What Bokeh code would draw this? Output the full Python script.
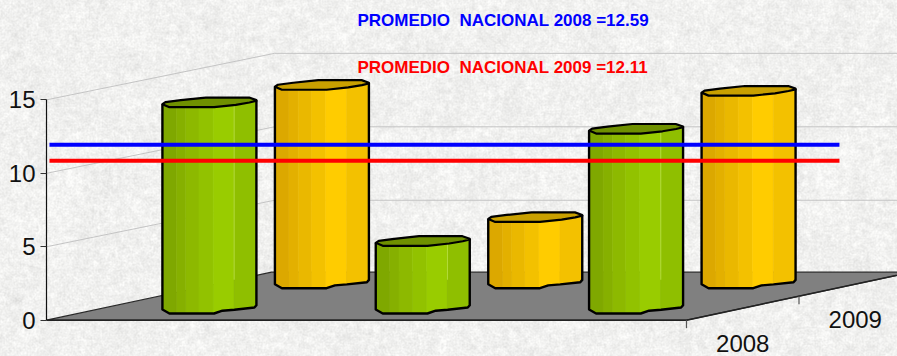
import base64, struct, zlib
import numpy as np
from bokeh.core.properties import value
from bokeh.embed import file_html
from bokeh.resources import INLINE
from bokeh.plotting import figure
from bokeh.models import Range1d, FixedTicker, Label, ColumnDataSource

# ---- data ----
categories = ["A", "B", "C"]
series_names = ["2008", "2009"]
values_2008 = [14.0, 4.56, 12.2]
values_2009 = [13.55, 4.55, 13.15]
y_ticks = [0, 5, 10, 15]
average_levels = [11.95, 10.86]
average_labels = ["PROMEDIO\u00a0\u00a0NACIONAL 2008 =12.59", "PROMEDIO\u00a0\u00a0NACIONAL 2009 =12.11"]
average_colors = ["#0000FF", "#FF0000"]

# ---- page geometry ----
W, H = 897, 356
LEFT = 46                 # axis line
ZERO_PX = 319.7           # pixel row of value 0
PX_PER_VALUE = 14.69
PX_PER_CAT = 213.33
DEPTH_DX_PX, DEPTH_DY_PX = 112.5, 24.0

x_per_depth = DEPTH_DX_PX / PX_PER_CAT
y_per_depth = DEPTH_DY_PX / PX_PER_VALUE

def X(cat, depth=0.0, off_px=0.0):
    return cat + depth * x_per_depth + np.asarray(off_px) / PX_PER_CAT

def Y(val, depth=0.0, off_px=0.0):
    return val + depth * y_per_depth - np.asarray(off_px) / PX_PER_VALUE

# ---- stone paper background, a deterministic mottled texture ----
def texture():
    pad = 60
    yy, xx = np.mgrid[0:H + 2 * pad, 0:W + 2 * pad].astype(float)
    h = np.sin(xx * 12.9898 + yy * 78.233) * 43758.5453
    h = h - np.floor(h)
    def blur(a, r):
        for axis in (0, 1):
            c = np.cumsum(a, axis=axis)
            a = (np.roll(c, -r, axis) - np.roll(c, r, axis)) / (2 * r)
        return a
    fine = blur(h, 1) - 0.5
    mid = blur(h[::-1, :], 3) - 0.5
    big = blur(h[:, ::-1], 12) - 0.5
    g = 241 + fine * 24 + mid * 60 + big * 100
    g = np.clip(g, 212, 253)[pad:pad + H, pad:pad + W]
    px = np.stack([g, g, g * 0.994], axis=-1).astype(np.uint8)
    raw = b"".join(b"\x00" + px[i].tobytes() for i in range(H))
    def chunk(t, d):
        return struct.pack(">I", len(d)) + t + d + struct.pack(">I", zlib.crc32(t + d) & 0xffffffff)
    png = b"\x89PNG\r\n\x1a\n" + chunk(b"IHDR", struct.pack(">IIBBBBB", W, H, 8, 2, 0, 0, 0)) \
        + chunk(b"IDAT", zlib.compress(raw, 9)) + chunk(b"IEND", b"")
    return base64.b64encode(png).decode()

p = figure(width=W, height=H, output_backend="svg", toolbar_location=None,
           x_range=Range1d(0, (W - LEFT) / PX_PER_CAT),
           y_range=Range1d(-(H - ZERO_PX) / PX_PER_VALUE, ZERO_PX / PX_PER_VALUE),
           min_border_left=LEFT, min_border_right=0, min_border_top=0, min_border_bottom=0,
           outline_line_color=None,
           background_fill_color=None, border_fill_color=None, x_axis_location=None)
p.stylesheets = [":host{background:url(data:image/png;base64,%s) no-repeat 0 0;}" % texture()]
p.xgrid.visible = False
p.ygrid.visible = False

ax = p.yaxis[0]
ax.ticker = FixedTicker(ticks=y_ticks)
ax.bounds = (y_ticks[0], y_ticks[-1])
ax.major_label_text_font = "Liberation Sans"
ax.major_label_text_font_size = "24px"
ax.major_label_text_color = "#111111"
ax.major_tick_out = 6
ax.major_tick_in = 0
ax.minor_tick_out = 0
ax.minor_tick_in = 0
ax.major_label_standoff = 5
ax.axis_line_color = "#111111"
ax.axis_line_width = 1.2
ax.major_tick_line_color = "#333333"

n_cat = len(categories)
n_depth = len(series_names)

# walls' grid lines
WALL_DROP = 1.5
gx, gy = [], []
for t in y_ticks[1:]:
    gx.append([X(0, 0), X(0, n_depth, 3), X(n_cat, n_depth, 3)])
    gy.append([Y(t, 0), Y(t, n_depth, WALL_DROP), Y(t, n_depth, WALL_DROP)])
p.multi_line(gx, gy, line_color="#C4C4C4", line_width=1)

# floor
p.patch([X(0, 0), X(n_cat, 0), X(n_cat, n_depth), X(0, n_depth)],
        [Y(0, 0), Y(0, 0), Y(0, n_depth), Y(0, n_depth)],
        fill_color="#808080", line_color="#2a2a2a", line_width=1.2)
p.line([X(0, 0), X(n_cat, 0), X(n_cat, n_depth)], [Y(0, 0), Y(0, 0), Y(0, n_depth)],
       line_color="#222222", line_width=1.5)

# depth ticks
TICK = 8.0
tick_x = [[X(n_cat, d), X(n_cat, d)] for d in range(n_depth)]
tick_y = [[Y(0, d), Y(0, d, TICK)] for d in range(n_depth)]
p.multi_line(tick_x, tick_y, line_color="#555555", line_width=1.2)

# depth labels, real text placed at the depth positions
dl = ColumnDataSource(dict(x=[X(n_cat, d + 0.5) for d in range(n_depth)],
                           y=[Y(0, d + 0.5, 35.5) for d in range(n_depth)],
                           t=series_names))
p.text("x", "y", "t", source=dl, text_font=value("Liberation Sans"), text_font_size=value("24px"),
       text_color="#111111", text_align="center", text_baseline="middle")

# irregular 3-D column outline, pixel offsets from the column's centre
top_back = [(-47, 1.6), (-44, -0.4), (-28.6, -2.4), (-3.7, -5), (39.7, -5), (47, -2.4)]
top_front = [(-47, 1.6), (-40, 4.6), (4.7, 4.6), (26.4, 2.3), (40, 0), (47, -1.7)]
bottom = [(-47, 1.3), (-40, 5.3), (4.7, 5.3), (13, 2.5), (25, 1.5), (45, -0.7), (47, -3)]
stripe_edges = [-47, -33, -23.7, -10.4, 3.7, 24.7, 47]
green = ["#7FA800", "#86B000", "#8DB900", "#92C200", "#99CC00", "#8FBF00"]
yellow = ["#DCA800", "#E3B000", "#EAB800", "#F3C100", "#FFCC00", "#F3C100"]
green_top, yellow_top = "#6F9000", "#C9A000"

tf_x, tf_y = map(np.array, zip(*top_front))
bt_x, bt_y = map(np.array, zip(*bottom))
tb_x, tb_y = map(np.array, zip(*top_back))

def draw_bar(cat, depth, val, cols, top_col, seam=None, base_lift=0.0):
    cx = cat + 0.5
    for i, col in enumerate(cols):
        a, b = stripe_edges[i], stripe_edges[i + 1]
        xs_t = np.array([a] + [v for v in tf_x if a < v < b] + [b], float)
        xs_b = np.array([a] + [v for v in bt_x if a < v < b] + [b], float)
        ox = np.r_[xs_t, xs_b[::-1]]
        yy_t = Y(val, depth, np.interp(xs_t, tf_x, tf_y))
        yy_b = Y(0, depth, np.interp(xs_b, bt_x, bt_y) - base_lift)
        p.patch(X(cx, depth, ox), np.r_[yy_t, yy_b[::-1]], fill_color=col, line_color=col, line_width=0.6)
    if seam:
        sx = stripe_edges[5]
        p.line(X(cx, depth, [sx, sx]),
               [Y(val, depth, np.interp(sx, tf_x, tf_y)), Y(0, depth, np.interp(sx, bt_x, bt_y) - 30)],
               line_color=seam, line_width=1)
    # top cap and outline
    p.patch(X(cx, depth, np.r_[tb_x, tf_x[::-1]]),
            np.r_[Y(val, depth, tb_y), Y(val, depth, tf_y[::-1])],
            fill_color=top_col, line_color="black", line_width=2.2, line_join="round")
    ox = np.r_[-47, bt_x, 47]
    oy = np.r_[Y(val, depth, 1.6), Y(0, depth, bt_y - base_lift), Y(val, depth, -2.4)]
    p.line(X(cx, depth, ox), oy, line_color="black", line_width=2.4, line_join="round")

for c in range(n_cat):
    draw_bar(c, 0.5, values_2008[c], green, green_top, seam="#B4DC3C")
    draw_bar(c, 1.5, values_2009[c], yellow, yellow_top, base_lift=1.3)

# national averages
LINE_START, LINE_END = 0.014, 3.717
for lev, col in zip(average_levels, average_colors):
    p.line([LINE_START, LINE_END], [lev, lev], line_color=col, line_width=4)

for txt, col, row in zip(average_labels, average_colors, [20, 67]):
    p.add_layout(Label(x=357 - LEFT, y=H - row, x_units="screen", y_units="screen", text=txt,
                       text_color=col, text_font="Liberation Sans", text_font_style="bold",
                       text_font_size="14.5px" if False else "17px", text_baseline="middle", text_align="left"))

open("out.html", "w").write(file_html(p, INLINE))
